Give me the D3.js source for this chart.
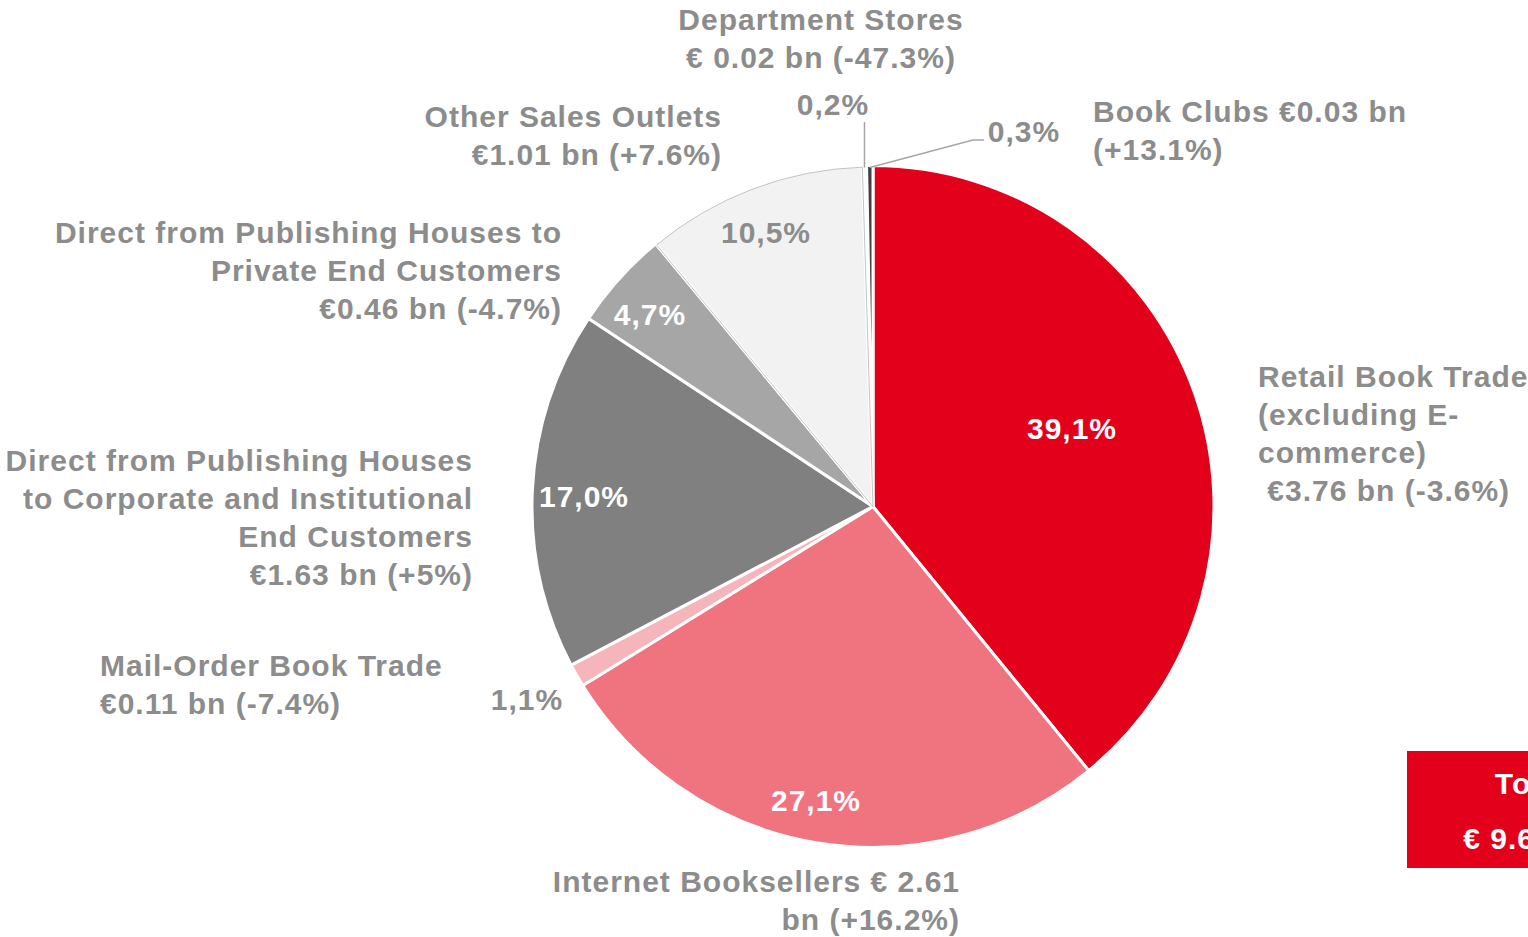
<!DOCTYPE html>
<html>
<head>
<meta charset="utf-8">
<script src="https://cdn.jsdelivr.net/npm/d3@7"></script>
<style>
  body { margin: 0; background: #fff; overflow: hidden; }
  text { font-family: "Liberation Sans", Arial, sans-serif; font-weight: bold; letter-spacing: 1px; }
</style>
</head>
<body>
<div class="container"></div>
<script>
// slices clockwise from 12 o'clock
let channels = ["Retail Book Trade", "Internet Booksellers", "Mail-Order Book Trade",
    "Direct Corporate", "Direct Private", "Other Sales Outlets", "Department Stores", "Book Clubs"];
let shares = [39.1, 27.1, 1.1, 17.0, 4.7, 10.5, 0.2, 0.3];
let shareLabels = ["39,1%", "27,1%", "1,1%", "17,0%", "4,7%", "10,5%", "0,2%", "0,3%"];
let colors = ["#e2001a", "#f07480", "#f6b4bb", "#808080", "#a6a6a6", "#f2f2f2", "#ffffff", "#3f3f3f"];

// outside category labels (lines)
let catLines = [
    ["Retail Book Trade", "(excluding E-", "commerce)", " €3.76 bn (-3.6%)"],
    ["Internet Booksellers € 2.61", "bn (+16.2%)"],
    ["Mail-Order Book Trade", "€0.11 bn (-7.4%)"],
    ["Direct from Publishing Houses", "to Corporate and Institutional", "End Customers", "€1.63 bn (+5%)"],
    ["Direct from Publishing Houses to", "Private End Customers", "€0.46 bn (-4.7%)"],
    ["Other Sales Outlets", "€1.01 bn (+7.6%)"],
    ["Department Stores", "€ 0.02 bn (-47.3%)"],
    ["Book Clubs €0.03 bn", "(+13.1%)"]
];
let totalLines = ["Total", "€ 9.63 bn"];

let W = 1528, H = 937;
let cx = 873, cy = 506.5, R = 341;
let grey = "#8c8c8c";
let fs = 30;

let svg = d3.select(".container").append("svg")
    .attr("width", W)
    .attr("height", H);

let data = shares.map(function (d, i) {
    return { name: channels[i], value: d, label: shareLabels[i], color: colors[i], lines: catLines[i] };
});

let pie = d3.pie()
    .sort(null)
    .value(function (d) { return d.value; });

let arc = d3.arc().innerRadius(0).outerRadius(R);
let arcs = pie(data);

let g = svg.append("g").attr("transform", "translate(" + cx + "," + cy + ")");

g.selectAll("path.slice")
    .data(arcs)
    .enter()
    .append("path")
    .attr("class", "slice")
    .attr("d", arc)
    .attr("fill", function (d) { return d.data.color; })
    .attr("stroke", "#fff")
    .attr("stroke-width", 3)
    .attr("stroke-linejoin", "round");

// thin outline on the pale slice
let pale = d3.arc().innerRadius(0).outerRadius(R - 1.5);
g.append("path")
    .attr("d", pale(arcs[5]))
    .attr("fill", "none")
    .attr("stroke", "#b5b5b5")
    .attr("stroke-width", 0.8);

// percentage label positions
let pctPos = [
    [1072, 428, "#fff"], [816, 800, "#fff"], [527, 699, grey], [584, 496, "#fff"],
    [650, 314, "#fff"], [766, 232, grey], [833, 104, grey], [1024, 131, grey]
];
svg.selectAll("text.pct")
    .data(arcs)
    .enter()
    .append("text")
    .attr("class", "pct")
    .attr("x", function (d, i) { return pctPos[i][0]; })
    .attr("y", function (d, i) { return pctPos[i][1] + 11; })
    .attr("text-anchor", "middle")
    .attr("font-size", fs)
    .attr("fill", function (d, i) { return pctPos[i][2]; })
    .text(function (d) { return d.data.label; });

// leader lines for the two tiny slices
let polar = function (a, r) { return [cx + r * Math.sin(a), cy - r * Math.cos(a)]; };
let dMid = (arcs[6].startAngle + arcs[6].endAngle) / 2;
let bMid = (arcs[7].startAngle + arcs[7].endAngle) / 2;
let p1 = polar(dMid, R - 2);
let p2 = polar(bMid, R - 2);
svg.append("polyline")
    .attr("points", [p1, [p1[0], 122]].map(function (p) { return p.join(","); }).join(" "))
    .attr("fill", "none").attr("stroke", "#a6a6a6").attr("stroke-width", 1.5);
svg.append("polyline")
    .attr("points", [p2, [973, 140], [984, 140]].map(function (p) { return p.join(","); }).join(" "))
    .attr("fill", "none").attr("stroke", "#a6a6a6").attr("stroke-width", 1.5);

// category labels: x, first baseline, anchor
let catPos = [
    [1258, 387, "start"], [960, 892, "end"], [100, 676, "start"], [473, 471, "end"],
    [562, 243, "end"], [722, 127, "end"], [821, 30, "middle"], [1093, 122, "start"]
];
let lineH = 38;
arcs.forEach(function (d, i) {
    let t = svg.append("text")
        .attr("x", catPos[i][0])
        .attr("y", catPos[i][1])
        .attr("text-anchor", catPos[i][2])
        .attr("font-size", fs)
        .attr("fill", grey)
        .attr("xml:space", "preserve");
    d.data.lines.forEach(function (l, j) {
        t.append("tspan")
            .attr("x", catPos[i][0])
            .attr("y", catPos[i][1] + j * lineH)
            .text(l);
    });
});

// total box
svg.append("rect")
    .attr("x", 1407).attr("y", 751)
    .attr("width", 250).attr("height", 117)
    .attr("fill", "#e2001a");
totalLines.forEach(function (l, j) {
    svg.append("text")
        .attr("x", 1532)
        .attr("y", 794 + j * 55)
        .attr("text-anchor", "middle")
        .attr("font-size", fs)
        .attr("fill", "#fff")
        .text(l);
});
</script>
</body>
</html>
